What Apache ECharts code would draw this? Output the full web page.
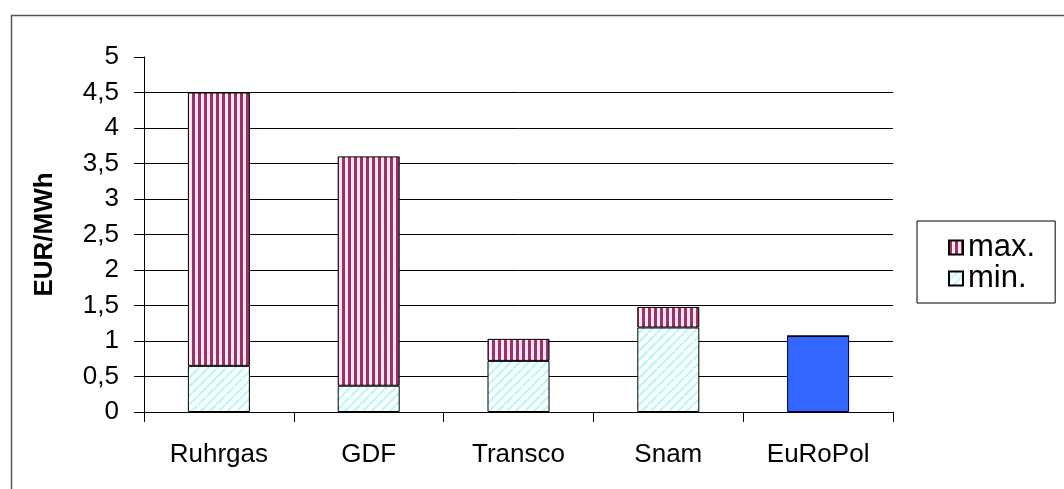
<!DOCTYPE html>
<html>
<head>
<meta charset="utf-8">
<script src="https://cdn.jsdelivr.net/npm/echarts@6/dist/echarts.min.js"></script>
<style>html,body{margin:0;padding:0;background:#fff}#c{width:1064px;height:489px}</style>
</head>
<body>
<div id="c"></div>
<script>
var categories = ['Ruhrgas', 'GDF', 'Transco', 'Snam', 'EuRoPol'];
var minValues = [0.65, 0.37, 0.72, 1.19, 1.07];
var maxValues = [3.85, 3.23, 0.31, 0.29, 0];
var seriesNames = ['max.', 'min.'];
var yAxisName = 'EUR/MWh';

function makeMaxPattern() {
  var c = document.createElement('canvas');
  c.width = 6; c.height = 6;
  var g = c.getContext('2d');
  g.fillStyle = '#ffe4f4'; g.fillRect(0, 0, 6, 6);
  g.fillStyle = '#993366'; g.fillRect(0, 0, 3, 6);
  return c;
}
function makeMinPattern() {
  var s = 9;
  var c = document.createElement('canvas');
  c.width = s; c.height = s;
  var g = c.getContext('2d');
  g.fillStyle = '#ffffff'; g.fillRect(0, 0, s, s);
  g.strokeStyle = '#bff7f7'; g.lineWidth = 2.5;
  for (var k = -1; k <= 1; k++) {
    g.beginPath();
    g.moveTo(k * s, s);
    g.lineTo(k * s + s, 0);
    g.stroke();
  }
  return c;
}
var maxFill = { image: makeMaxPattern(), repeat: 'repeat' };
var minFill = { image: makeMinPattern(), repeat: 'repeat' };

var minData = minValues.map(function (v, i) {
  if (categories[i] === 'EuRoPol') {
    return { value: v, itemStyle: { color: '#3366ff', borderColor: '#000033' } };
  }
  return v;
});

var chart = echarts.init(document.getElementById('c'), null, { renderer: 'canvas' });
var font = 'Liberation Sans, Arial, sans-serif';
chart.setOption({
  animation: false,
  backgroundColor: '#ffffff',
  textStyle: { fontFamily: font },
  graphic: [{
    type: 'rect', left: 9, top: 13, silent: true,
    shape: { width: 1100, height: 520 },
    style: { fill: 'none', stroke: '#555555', lineWidth: 1.5 }
  }],
  grid: { left: 144, right: 171, top: 57, bottom: 77 },
  legend: {
    orient: 'vertical', left: 917, top: 221,
    data: [seriesNames[0], seriesNames[1]],
    backgroundColor: '#ffffff',
    borderColor: '#000000', borderWidth: 1,
    padding: [11, 20, 9, 31],
    itemWidth: 14, itemHeight: 14, itemGap: 0,
    icon: 'rect',
    textStyle: { fontFamily: font, fontSize: 31, lineHeight: 29, color: '#000' }
  },
  xAxis: {
    type: 'category', data: categories,
    axisLine: { show: true, lineStyle: { color: '#000', width: 1 } },
    axisTick: { show: true, length: 10, alignWithLabel: false, lineStyle: { color: '#000' } },
    axisLabel: { color: '#000', fontSize: 26, margin: 30, fontFamily: font },
    splitLine: { show: false }
  },
  yAxis: {
    type: 'value', min: 0, max: 5, interval: 0.5,
    name: yAxisName, nameLocation: 'middle', nameGap: 86, nameRotate: 90,
    nameTextStyle: { fontWeight: 'bold', fontSize: 26, color: '#000', fontFamily: font },
    axisLine: { show: true, lineStyle: { color: '#000', width: 1 } },
    axisTick: { show: true, length: 10, inside: false, lineStyle: { color: '#000' } },
    axisLabel: {
      color: '#000', fontSize: 26, margin: 25, fontFamily: font,
      formatter: function (v) { return String(v).replace('.', ','); }
    },
    splitLine: { show: true, showMaxLine: false, lineStyle: { color: '#000', width: 1 } }
  },
  series: [
    {
      name: seriesNames[1], type: 'bar', stack: 'a', data: minData, barWidth: 62,
      itemStyle: { color: minFill, borderColor: '#000', borderWidth: 1 }
    },
    {
      name: seriesNames[0], type: 'bar', stack: 'a', data: maxValues, barWidth: 62,
      itemStyle: { color: maxFill, borderColor: '#000', borderWidth: 1 }
    }
  ]
});
</script>
</body>
</html>
